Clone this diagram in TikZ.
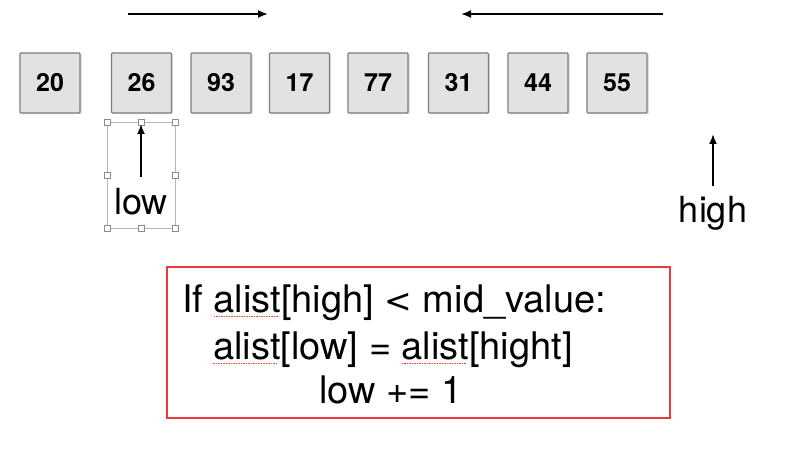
\documentclass[tikz,border=0pt]{standalone}
\usepackage{fontspec}
\setmainfont{TeX Gyre Heros}
\newfontfamily\symfont{DejaVu Sans}
\usetikzlibrary{arrows.meta}
\definecolor{boxfill}{HTML}{E2E2E2}
\definecolor{boxline}{HTML}{7E7E7E}
\definecolor{redbox}{HTML}{EE3A3A}
\definecolor{selline}{HTML}{B4B4C8}
\newsavebox{\sqbox}
\newcommand\spellsq[1]{\sbox{\sqbox}{#1}\rlap{\color{red!75}\leaders\hbox{\lower4pt\hbox{\rule{1.3pt}{0.9pt}}\kern1.2pt}\hskip\wd\sqbox}\usebox{\sqbox}}
\tikzset{
  cell/.style={draw=boxline, line width=1.2pt, fill=boxfill, minimum width=60pt, minimum height=60pt,
    inner sep=0pt, font=\fontsize{25}{25}\selectfont\bfseries, rounded corners=1pt},
  cellshadow/.style={fill=black!12, minimum width=60pt, minimum height=60pt, inner sep=0pt},
  lbl/.style={font=\fontsize{36}{36}\selectfont, anchor=base, inner sep=0pt},
  code/.style={font=\fontsize{38}{38}\selectfont, anchor=base, inner sep=0pt},
  arr/.style={line width=1.8pt, -{Latex[length=10pt,width=8pt]}},
  handle/.style={draw=black!45, fill=white, line width=0.6pt, minimum size=6pt, inner sep=0pt},
}
\begin{document}
\begin{tikzpicture}[x=1pt,y=-1pt]
\useasboundingbox[fill=white] (0,0) rectangle (785,462);
% top arrows
\coordinate (ra0) at (128,14);
\coordinate (ra1) at (268,14);
\coordinate (la0) at (663,14);
\coordinate (la1) at (461,14);
\draw[arr] (ra0) -- (ra1);
\draw[arr] (la0) -- (la1);
% cells
\foreach \n/\x/\v in {c1/50/20, c2/141.5/26, c3/221/93, c4/299.5/17, c5/378/77, c6/458.5/31, c7/538/44, c8/617/55}{
  \node[cellshadow] at (\x+1.5,84.5) {};
  \node[cell] (\n) at (\x,83) {\v};
}
% selection box around low
\draw[selline, line width=0.8pt] (107,122) rectangle (175,228);
\foreach \hx/\hy [count=\i] in {107/122,141/122,175/122,107/175,175/175,107/228,141/228,175/228}{
  \node[handle] (h\i) at (\hx,\hy) {};
}
\node[lbl] (low) at (141,215) {low};
\coordinate (lowtail) at (141,177);
\coordinate (lowtip) at (141,124);
\draw[arr] (lowtail) -- (lowtip);
\node[lbl] (high) at (713,223) {high};
\coordinate (hightail) at (713,186);
\coordinate (hightip) at (713,134);
\draw[arr] (hightail) -- (hightip);
% code box
\draw[redbox, line width=2.8pt] (167,267) rectangle (670,418);
\node[code] (l1) at (394,313) {If \spellsq{alist}[high] {\symfont\fontsize{33}{33}\selectfont<} mid\_value:};
\node[code] (l2) at (393,360) {\spellsq{alist}[low] = \spellsq{alist}[hight]};
\node[code] (l3) at (391,403) {low += 1};
\end{tikzpicture}
\end{document}
